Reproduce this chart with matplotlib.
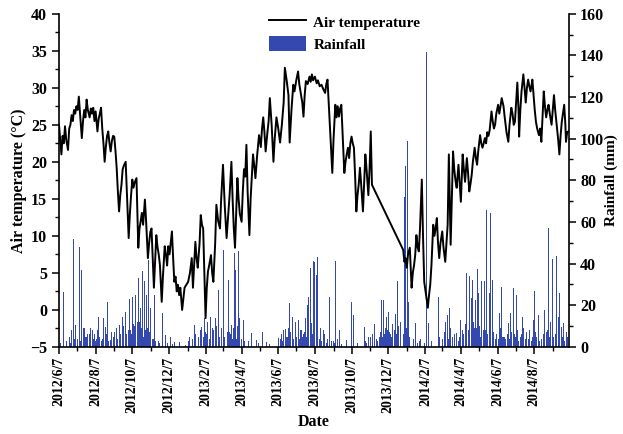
import numpy as np
import matplotlib
matplotlib.use("Agg")
import matplotlib.pyplot as plt
import matplotlib.dates as mdates
from matplotlib.ticker import MultipleLocator, FuncFormatter

# Daily series; day = days since 2012/6/7
start = np.datetime64("2012-06-07")
end = np.datetime64("2014-10-04")

temp_day = [
    0, 2, 4, 6, 8, 10, 12, 15, 17, 19, 21, 23, 25, 27, 29, 31, 33, 35, 38, 40,
    42, 44, 46, 48, 51, 53, 55, 57, 59, 61, 64, 66, 68, 70, 72, 74, 76, 78, 80, 82,
    84, 86, 88, 90, 92, 94, 96, 98, 100, 102, 104, 106, 108, 111, 113, 116, 118, 120, 122, 124,
    126, 129, 132, 134, 136, 138, 140, 143, 145, 148, 150, 152, 154, 156, 158, 160, 162, 164, 166, 168,
    171, 173, 176, 178, 180, 182, 184, 186, 188, 190, 192, 194, 196, 198, 200, 202, 205, 207, 209, 212,
    215, 218, 221, 223, 225, 227, 229, 231, 234, 236, 238, 240, 242, 244, 246, 248, 250, 253, 255, 257,
    260, 262, 265, 268, 270, 273, 276, 279, 281, 284, 287, 289, 291, 293, 295, 297, 299, 301, 304, 306,
    308, 310, 312, 314, 317, 319, 321, 323, 325, 327, 330, 333, 336, 338, 340, 342, 344, 347, 349, 351,
    354, 357, 359, 362, 365, 368, 371, 374, 376, 379, 382, 384, 387, 390, 392, 395, 398, 400, 403, 405,
    407, 409, 411, 414, 417, 419, 421, 423, 426, 429, 431, 434, 437, 440, 443, 445, 447, 449, 451, 453,
    455, 457, 460, 462, 464, 466, 468, 470, 472, 475, 477, 479, 481, 483, 485, 487, 489, 491, 493, 495,
    497, 499, 501, 503, 506, 508, 510, 512, 515, 517, 519, 521,
    573, 575, 577, 579, 581, 584, 587, 589, 591, 593, 595, 597, 599, 601, 604, 606, 608, 611, 614, 616,
    618, 620, 623, 625, 627, 629, 631, 633, 635, 638, 640, 643, 645, 647, 649, 651, 652, 654, 656, 658,
    660, 662, 665, 667, 669, 672, 674, 676, 679, 681, 683, 685, 687, 689, 692, 694, 696, 698, 701, 703,
    705, 707, 709, 711, 713, 715, 717, 720, 722, 724, 726, 728, 731, 733, 735, 737, 740, 742, 745, 748,
    750, 753, 755, 757, 759, 761, 763, 765, 766, 768, 770, 773, 775, 777, 779, 781, 783, 785, 787, 788,
    790, 792, 794, 796, 799, 801, 803, 805, 807, 809, 811, 813, 815, 817, 820, 822, 824, 826, 828, 831,
    833, 835, 837, 839, 841, 843, 844, 846, 848,
]
temp_c = [
    25.0, 23.0, 21.0, 23.5, 22.5, 24.8, 23.0, 21.6, 24.5, 25.0, 26.3, 25.5, 27.0, 26.5, 27.5, 27.0, 28.8, 26.5, 23.2, 25.5,
    27.0, 26.0, 28.4, 27.0, 26.0, 27.2, 26.5, 27.3, 25.5, 26.8, 24.1, 25.8, 26.5, 27.3, 24.5, 22.5, 20.0, 22.0, 23.5, 24.1,
    22.5, 21.4, 22.8, 23.5, 23.4, 21.5, 19.2, 16.0, 13.3, 15.5, 16.9, 19.0, 19.5, 20.0, 16.0, 9.7, 13.0, 15.5, 17.6, 16.5,
    17.2, 17.8, 8.4, 11.0, 12.0, 13.1, 11.5, 14.9, 12.0, 7.0, 9.0, 10.5, 11.0, 7.0, 3.0, 6.5, 10.1, 8.5, 7.5, 6.1,
    1.1, 4.5, 8.6, 7.5, 6.0, 8.6, 7.5, 9.0, 10.6, 7.0, 3.8, 4.5, 2.5, 3.4, 2.0, 3.0, 0.0, 1.5, 3.0, 3.4,
    3.8, 5.0, 7.0, 3.0, 6.0, 9.2, 7.0, 5.7, 9.0, 12.8, 11.5, 11.0, 5.0, -1.1, 3.0, 5.2, 6.0, 7.4, 5.0, 3.8,
    9.0, 14.2, 12.0, 11.0, 15.0, 19.6, 14.0, 9.7, 12.0, 15.5, 20.0, 15.0, 11.0, 8.4, 13.0, 17.8, 15.0, 13.0, 11.9, 16.0,
    19.0, 18.0, 22.3, 16.0, 10.1, 15.0, 18.0, 21.0, 19.5, 17.8, 21.0, 23.6, 22.0, 24.5, 26.0, 24.0, 21.4, 24.0, 25.5, 28.6,
    25.0, 20.0, 23.0, 26.0, 24.5, 22.6, 25.0, 28.0, 32.7, 31.0, 29.0, 22.6, 27.0, 30.4, 29.5, 31.0, 32.2, 30.5, 29.0, 28.0,
    26.1, 29.0, 30.9, 30.5, 31.5, 30.8, 31.8, 31.0, 31.5, 30.6, 31.0, 30.2, 30.4, 29.8, 29.3, 30.5, 31.1, 28.0, 25.0, 22.0,
    18.5, 23.0, 27.7, 26.0, 27.5, 26.1, 27.2, 27.7, 24.0, 18.5, 20.0, 21.0, 21.9, 20.5, 22.5, 23.4, 22.5, 21.9, 18.0, 13.3,
    15.5, 17.0, 19.2, 17.0, 13.3, 17.0, 21.0, 19.0, 15.5, 19.0, 24.1, 16.9,
    8.1, 6.5, 7.0, 5.7, 7.5, 8.4, 3.0, 5.0, 6.0, 7.4, 10.1, 8.5, 7.9, 11.0, 17.6, 10.0, 3.8, 2.0, 0.3, 2.0,
    3.4, 6.0, 11.5, 10.0, 11.0, 12.4, 9.0, 7.0, 9.0, 10.6, 8.5, 6.5, 9.0, 11.5, 21.0, 13.0, 8.8, 15.0, 21.4, 19.0,
    17.5, 16.5, 19.6, 17.0, 14.6, 21.0, 19.0, 17.3, 20.5, 18.5, 16.0, 17.0, 18.2, 20.0, 21.9, 20.5, 19.6, 21.5, 23.6, 22.5,
    21.9, 22.5, 23.2, 22.5, 24.0, 23.5, 24.3, 26.8, 25.5, 24.5, 25.0, 26.5, 27.7, 26.5, 27.5, 28.6, 27.5, 26.0, 24.0, 22.7,
    25.0, 27.3, 26.5, 25.0, 25.4, 28.0, 30.7, 27.0, 23.4, 27.0, 29.5, 31.8, 30.0, 28.0, 30.0, 31.1, 30.2, 29.5, 30.5, 31.1,
    29.0, 27.0, 25.4, 24.5, 23.6, 24.5, 22.7, 26.0, 29.5, 27.5, 26.0, 27.0, 27.7, 26.5, 25.0, 27.0, 29.0, 27.0, 25.4, 23.0,
    21.0, 23.5, 25.4, 26.5, 27.7, 25.0, 22.7, 24.0, 24.1,
]

rain_day = [
    7, 15, 24, 28, 34, 38, 42, 52, 55, 59, 66, 74, 77, 80, 85, 93, 100, 105, 110, 117,
    122, 127, 132, 135, 139, 142, 146, 149, 152, 159, 173, 177, 185, 193, 200, 225, 238, 242, 248, 253,
    260, 265, 268, 274, 278, 282, 287, 292, 294, 299, 301, 307, 313, 320, 328, 339, 346, 366, 377, 383,
    388, 393, 399, 404, 410, 414, 416, 418, 420, 423, 426, 428, 430, 435, 440, 450, 451, 461, 467, 479,
    487, 490, 508, 518, 526, 537, 540, 545, 548, 556, 560, 564, 566, 571, 575, 577, 580, 582, 593, 602,
    612, 615, 632, 644, 646, 650, 662, 669, 679, 684, 687, 689, 693, 696, 698, 704, 708, 712, 717, 719,
    722, 733, 736, 741, 748, 751, 756, 761, 772, 779, 783, 790, 792, 798, 808, 815, 818, 821, 828, 831,
    834, 837, 840, 844,
    2, 3, 10, 19, 31, 45, 48, 62, 70, 88, 96, 113, 119, 125, 130, 137, 144, 155, 165, 180,
    189, 210, 232, 245, 251, 257, 263, 271, 276, 284, 289, 297, 304, 316, 332, 350, 372, 380, 386, 396,
    401, 407, 412, 433, 437, 445, 457, 470, 497, 512, 530, 533, 542, 550, 553, 558, 562, 568, 586, 597,
    620, 638, 655, 665, 674, 681, 691, 700, 706, 710, 714, 726, 729, 738, 744, 753, 758, 765, 768, 776,
    786, 795, 803, 811, 824, 826, 833, 842, 847,
    5, 8, 12, 17, 21, 26, 30, 36, 40, 44, 50, 57, 60, 64, 68, 72, 79, 83, 87, 91,
    95, 98, 102, 107, 112, 115, 120, 124, 128, 134, 140, 147, 150, 157, 161, 168, 215, 218, 222, 228,
    235, 240, 244, 250, 255, 258, 262, 267, 270, 273, 280, 286, 291, 296, 300, 303, 309, 368, 370, 374,
    378, 382, 385, 390, 394, 398, 402, 405, 409, 415, 419, 422, 425, 431, 436, 442, 447, 454, 459, 464,
    510, 515, 522, 528, 535, 539, 544, 547, 552, 555, 561, 565, 569, 573, 578, 584, 590, 600, 608, 634,
    641, 648, 652, 658, 667, 671, 677, 683, 686, 690, 695, 702, 707, 713, 718, 723, 731, 735, 740, 746,
    750, 756, 760, 764, 770, 774, 781, 789, 794, 800, 806, 813, 817, 822, 829, 836, 839, 845,
]
rain_mm = [
    26.6, 21.8, 51.6, 10.6, 47.9, 37.1, 9.0, 9.0, 8.0, 6.0, 14.6, 14.0, 9.8, 21.5, 3.4, 7.4, 10.6, 14.6, 17.0, 23.1,
    24.2, 25.0, 33.1, 18.8, 36.3, 31.5, 25.0, 41.9, 18.8, 25.0, 16.2, 5.8, 5.0, 2.6, 2.4, 10.6, 9.8, 13.8, 12.2, 14.6,
    13.8, 27.5, 21.8, 46.7, 15.4, 32.3, 10.6, 45.2, 37.1, 46.3, 14.0, 13.0, 5.8, 6.6, 3.4, 7.4, 2.6, 4.2, 8.7, 21.0,
    14.6, 12.2, 13.0, 8.2, 13.8, 20.0, 24.2, 38.0, 11.6, 41.1, 40.6, 34.7, 43.2, 8.9, 8.0, 14.5, 23.9, 41.1, 8.0, 3.2,
    21.8, 15.3, 9.7, 4.8, 11.0, 22.6, 22.6, 14.5, 17.0, 20.6, 16.0, 31.5, 35.5, 20.0, 72.0, 87.0, 99.0, 21.8, 11.3, 4.0,
    141.8, 11.6, 24.2, 12.0, 15.3, 18.5, 6.8, 12.9, 35.5, 34.2, 23.4, 32.3, 22.6, 37.4, 25.8, 31.5, 31.5, 65.8, 25.8, 64.2,
    32.0, 16.1, 28.7, 4.8, 11.3, 16.1, 28.2, 25.0, 14.5, 7.3, 8.0, 12.9, 27.0, 15.3, 17.7, 57.3, 12.0, 42.0, 43.9, 14.5,
    26.0, 9.7, 11.3, 11.6,
    2, 2, 3, 2, 4, 5, 6, 4, 3, 2, 5, 6, 8, 10, 12, 9, 8, 4, 3, 2,
    1.5, 1, 5, 6, 4, 8, 6, 9, 5, 7, 4, 10, 4, 3, 2, 1.5, 3, 5, 6, 5,
    4, 6, 5, 4, 3, 2, 3, 1.5, 2, 2, 3, 5, 6, 7, 5, 8, 6, 9, 4, 2,
    3, 4, 5, 3, 6, 8, 9, 10, 6, 8, 5, 4, 6, 5, 4, 7, 6, 3, 5, 4,
    3, 5, 4, 7, 5, 6, 4, 3, 5,
    4, 6, 3, 5, 8, 4, 7, 3, 9, 5, 6, 4, 3, 8, 5, 4, 6, 3, 7, 5,
    9, 4, 6, 10, 5, 8, 6, 11, 7, 12, 5, 9, 7, 4, 3, 2, 3, 5, 4, 6,
    8, 5, 7, 3, 9, 6, 10, 5, 8, 11, 7, 6, 9, 4, 5, 8, 3, 4, 6, 8,
    5, 9, 7, 4, 10, 6, 8, 5, 7, 9, 4, 6, 3, 5, 8, 6, 4, 3, 2, 4,
    3, 5, 6, 4, 7, 5, 9, 8, 6, 11, 7, 10, 12, 6, 9, 5, 4, 3, 2, 5,
    7, 4, 9, 6, 5, 8, 11, 7, 6, 12, 9, 5, 8, 6, 10, 7, 4, 9, 5, 6,
    4, 7, 5, 8, 6, 9, 4, 5, 7, 3, 6, 8, 5, 4, 6, 9, 5, 7,
]

temp_dates = start + np.array(temp_day).astype("timedelta64[D]")
rain_dates = start + np.array(rain_day).astype("timedelta64[D]")

plt.rcParams["font.family"] = ["Liberation Serif", "DejaVu Serif"]
plt.rcParams["font.weight"] = "bold"
plt.rcParams["axes.labelweight"] = "bold"

fig = plt.figure(figsize=(6.23, 4.34), dpi=100)
ax = fig.add_axes([0.0947, 0.2005, 0.8186, 0.768])
ax2 = ax.twinx()

# rainfall behind, temperature in front
ax.set_zorder(ax2.get_zorder() + 1)
ax.patch.set_visible(False)

bars = ax2.bar(rain_dates, rain_mm, width=1.6, color="#3449b0", linewidth=0)
line, = ax.plot(temp_dates, temp_c, color="black", linewidth=1.4)

ax.set_xlim(start, end)
ax.set_ylim(-5, 40)
ax2.set_ylim(0, 160)

ax.yaxis.set_major_locator(MultipleLocator(5))
ax.yaxis.set_minor_locator(MultipleLocator(2.5))
ax2.yaxis.set_major_locator(MultipleLocator(20))
ax2.yaxis.set_minor_locator(MultipleLocator(10))

ax.xaxis.set_major_locator(mdates.MonthLocator(bymonth=[2, 4, 6, 8, 10, 12], bymonthday=7))
ax.xaxis.set_minor_locator(mdates.MonthLocator(bymonthday=7))
ax.xaxis.set_major_formatter(
    FuncFormatter(lambda v, p: (lambda d: f"{d.year}/{d.month}/{d.day}")(mdates.num2date(v)))
)

for a in (ax, ax2):
    a.spines["top"].set_visible(False)
    for s in ("left", "bottom", "right"):
        a.spines[s].set_linewidth(1.2)
    a.tick_params(which="major", direction="out", length=5, width=1.1, labelsize=11.5)
    a.tick_params(which="minor", direction="out", length=3, width=1.0)
ax.spines["right"].set_visible(False)
ax2.spines["left"].set_visible(False)
ax2.spines["bottom"].set_visible(False)
ax.tick_params(axis="x", labelsize=10, pad=2)
ax2.tick_params(axis="y", pad=3)

for lbl in ax.get_xticklabels():
    lbl.set_rotation(90)
    lbl.set_fontweight("bold")

ax.set_ylabel("Air temperature (°C)", fontsize=11.5, labelpad=2)
ax2.set_ylabel("Rainfall (mm)", fontsize=11, labelpad=0)
ax.set_xlabel("Date", fontsize=11.5, labelpad=1)

ax.legend([line, bars], ["Air temperature", "Rainfall"], loc="upper left",
          bbox_to_anchor=(0.385, 1.04), frameon=False, fontsize=11,
          handlelength=2.4, handleheight=1.1, handletextpad=0.5, labelspacing=0.45)

fig.savefig("out.png", dpi=100)
